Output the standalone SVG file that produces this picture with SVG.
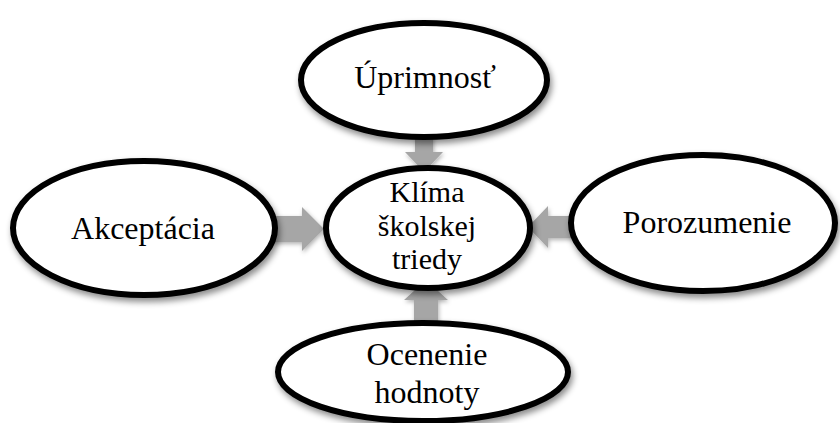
<svg xmlns="http://www.w3.org/2000/svg" width="840" height="423" viewBox="0 0 840 423">
<style>
.node{fill:#fff;stroke:#000;stroke-width:6;filter:url(#sh)}
.lbl{font-family:"Liberation Serif","Times New Roman",serif;font-size:32px;fill:#000;text-anchor:middle}
.sm{font-size:30px}
.arr{fill:#a6a6a6;filter:url(#sh2)}
</style>
<defs>
<filter id="sh" x="-20%" y="-20%" width="140%" height="150%">
<feDropShadow dx="2" dy="4" stdDeviation="3" flood-color="#000" flood-opacity="0.45"/>
</filter>
<filter id="sh2" x="-30%" y="-30%" width="160%" height="160%">
<feDropShadow dx="1" dy="2" stdDeviation="2" flood-color="#000" flood-opacity="0.3"/>
</filter>
</defs>
<rect width="840" height="423" fill="#fff"/>
<g id="connectors">
<polygon class="arr" points="415,128 433,128 433,152 443,152 424,172 405,152 415,152"/>
<polygon class="arr" points="270,216 302,216 302,207 324,229 302,251 302,242 270,242"/>
<polygon class="arr" points="578,216 548,216 548,206 528,227 548,248 548,238 578,238"/>
<polygon class="arr" points="414,330 438,330 438,300 448,300 426,280 404,300 414,300"/>
</g>
<g id="n-uprimnost">
<ellipse class="node" cx="424" cy="80" rx="123" ry="57"/>
<text class="lbl" x="425" y="88">Úprimnosť</text>
</g>
<g id="n-akceptacia">
<ellipse class="node" cx="144" cy="228" rx="131" ry="67"/>
<text class="lbl" x="143" y="239">Akceptácia</text>
</g>
<g id="n-porozumenie">
<ellipse class="node" cx="703" cy="223" rx="132" ry="68"/>
<text class="lbl" x="707" y="233">Porozumenie</text>
</g>
<g id="n-ocenenie">
<ellipse class="node" cx="423" cy="372" rx="145" ry="49"/>
<text class="lbl" x="427" y="365">Ocenenie</text>
<text class="lbl" x="427" y="403">hodnoty</text>
</g>
<g id="n-klima">
<ellipse class="node" cx="428" cy="228" rx="102" ry="60"/>
<text class="lbl sm" x="427" y="202">Klíma</text>
<text class="lbl sm" x="427" y="235.5">školskej</text>
<text class="lbl sm" x="427" y="269">triedy</text>
</g>
</svg>
